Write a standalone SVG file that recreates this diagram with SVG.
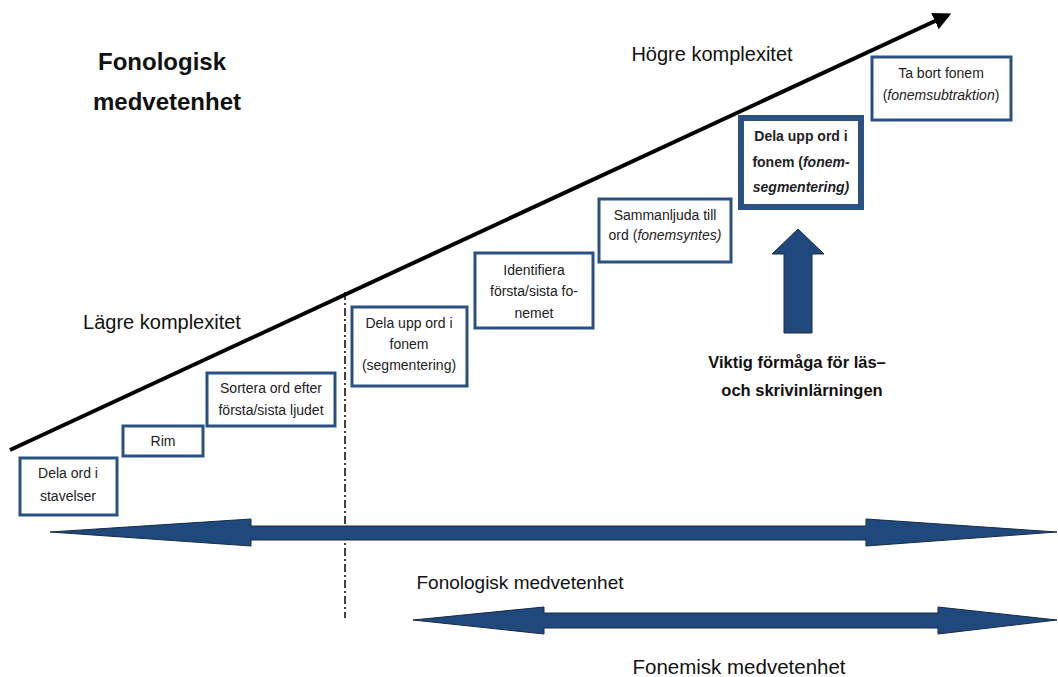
<svg xmlns="http://www.w3.org/2000/svg" width="1058" height="677" viewBox="0 0 1058 677">
<style>
.box{fill:#fff;stroke:#2B5083;stroke-width:3}
.bbox{fill:#fff;stroke:#2B5083;stroke-width:6}
.t{font-family:"Liberation Sans",Arial,sans-serif;font-size:14px;fill:#222;text-anchor:middle}
.b{font-weight:bold}
.lab{font-family:"Liberation Sans",Arial,sans-serif;fill:#111}
.arr{fill:#1F497D;stroke:#1a2a40;stroke-width:1}
</style>
<defs>
<marker id="ah" viewBox="0 0 10 10" refX="8" refY="5" markerWidth="4.5" markerHeight="4.5" orient="auto" markerUnits="strokeWidth">
<path d="M0,0 L10,5 L0,10 z" fill="#000"/>
</marker>
</defs>
<rect width="1058" height="677" fill="#fff"/>
<g id="labels">
<text class="lab b" x="162" y="70" font-size="24" text-anchor="middle">Fonologisk</text>
<text class="lab b" x="167" y="110" font-size="24" text-anchor="middle">medvetenhet</text>
<text class="lab" x="712" y="61" font-size="20" text-anchor="middle">Högre komplexitet</text>
<text class="lab" x="162" y="329" font-size="20" text-anchor="middle">Lägre komplexitet</text>
<text class="lab b" x="797" y="368" font-size="16.5" text-anchor="middle">Viktig förmåga för läs–</text>
<text class="lab b" x="802" y="396" font-size="16.5" text-anchor="middle">och skrivinlärningen</text>
<text class="lab" x="520" y="589" font-size="19" text-anchor="middle">Fonologisk medvetenhet</text>
<text class="lab" x="739" y="674" font-size="20.5" text-anchor="middle">Fonemisk medvetenhet</text>
</g>
<g id="connectors">
<line x1="10" y1="450" x2="948" y2="15" stroke="#000" stroke-width="4" marker-end="url(#ah)"/>
<line x1="345" y1="292" x2="345" y2="618" stroke="#000" stroke-width="1.5" stroke-dasharray="8,3,2,3"/>
<polygon class="arr" points="50,532 251,519 251,526 866,526 866,519 1057,532 866,546 866,540 251,540 251,546"/>
<polygon class="arr" points="413,620 544,607 544,613 938,613 938,607 1057,620 938,634 938,628 544,628 544,634"/>
<polygon class="arr" points="798,229 824,254 812,254 812,333 784,333 784,254 772,254"/>
</g>
<g id="n1"><rect class="box" x="20" y="458" width="97" height="57"/>
<text class="t" x="68" y="478">Dela ord i</text><text class="t" x="68" y="501">stavelser</text></g>
<g id="n2"><rect class="box" x="123" y="426" width="80" height="30"/>
<text class="t" x="163" y="446">Rim</text></g>
<g id="n3"><rect class="box" x="207" y="373" width="128" height="53"/>
<text class="t" x="271" y="393">Sortera ord efter</text><text class="t" x="271" y="415">första/sista ljudet</text></g>
<g id="n4"><rect class="box" x="352" y="307" width="115" height="79"/>
<text class="t" x="409" y="328">Dela upp ord i</text><text class="t" x="409" y="349">fonem</text><text class="t" x="409" y="370">(segmentering)</text></g>
<g id="n5"><rect class="box" x="475" y="253" width="118" height="75"/>
<text class="t" x="534" y="275">Identifiera</text><text class="t" x="534" y="296">första/sista fo-</text><text class="t" x="534" y="318">nemet</text></g>
<g id="n6"><rect class="box" x="599" y="199" width="132" height="63"/>
<text class="t" x="665" y="220">Sammanljuda till</text><text class="t" x="665" y="240">ord (<tspan font-style="italic">fonemsyntes)</tspan></text></g>
<g id="n7"><rect class="bbox" x="741" y="118" width="120" height="89"/>
<text class="t b" x="801" y="141" font-size="13.5">Dela upp ord i</text><text class="t b" x="801" y="167" font-size="13.5">fonem (<tspan font-style="italic">fonem-</tspan></text><text class="t b" x="801" y="192" font-size="13.5" font-style="italic">segmentering)</text></g>
<g id="n8"><rect class="box" x="872" y="57" width="139" height="63"/>
<text class="t" x="941" y="78">Ta bort fonem</text><text class="t" x="941" y="100">(<tspan font-style="italic">fonemsubtraktion</tspan>)</text></g>
</svg>
